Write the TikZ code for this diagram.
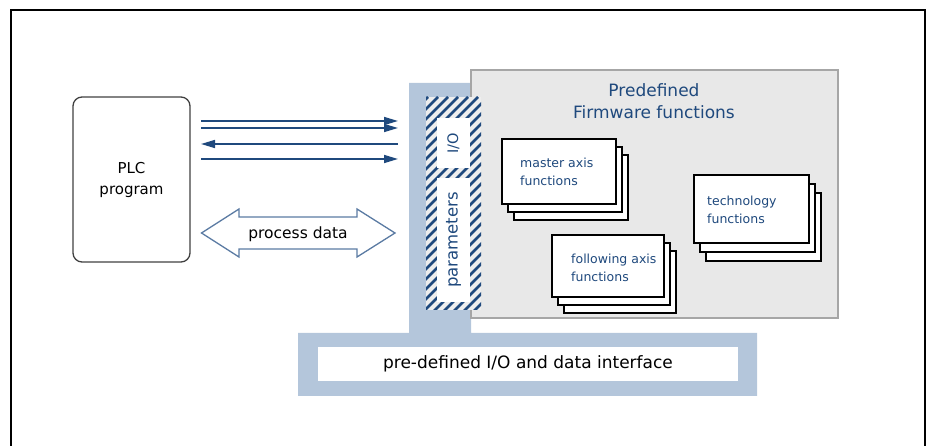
\documentclass[tikz,border=0pt]{standalone}
\usepackage{fontspec}
\setmainfont{DejaVu Sans}
\usetikzlibrary{arrows.meta}
\definecolor{navy}{HTML}{1F497D}
\definecolor{steel}{HTML}{B4C6DB}
\definecolor{panelfill}{HTML}{E8E8E8}
\definecolor{panelline}{HTML}{A6A6A6}
\definecolor{arrowline}{HTML}{5B7BA3}
\definecolor{hatchbg}{HTML}{EEEEEE}
\tikzset{
  box/.style={anchor=north west, inner sep=0pt, outer sep=0pt},
  cardbox/.style={box, draw=black, line width=1.4pt, fill=white},
  cardtext/.style={anchor=west, align=left, text=navy, inner sep=0pt,
    font=\fontsize{12.5}{18}\selectfont},
  flow/.style={navy, line width=1.6pt, -{Triangle[length=14pt,width=8pt]}},
  slot/.style={fill=white, inner sep=0pt, text=navy, rotate=90},
}
\begin{document}
\begin{tikzpicture}[x=1pt,y=-1pt]
\useasboundingbox (0,0) rectangle (930,446);

% outer frame, open at the bottom
\draw[line width=2.2pt] (11,448) -- (11,10) -- (925,10) -- (925,448);

% L-shaped interface band
\fill[steel] (409,83) -- (471,83) -- (471,333) -- (757,333) -- (757,396)
  -- (298,396) -- (298,333) -- (409,333) -- cycle;

% firmware panel
\node[box, fill=panelfill, draw=panelline, line width=1.2pt,
  minimum width=367, minimum height=248] (panel) at (471,70) {};
\node[align=center, text=navy, font=\fontsize{17}{22}\selectfont] (title)
  at (654,101) {Predefined\\Firmware functions};

% hatched I/O and parameter strip
\node[box, fill=hatchbg, minimum width=55, minimum height=213] (hatch) at (426,97) {};
\begin{scope}
  \clip (hatch.north west) rectangle (hatch.south east);
  \foreach \x in {203,213,...,493}
    \draw[navy, line width=2.6pt] (\x,312) -- (\x+215,97);
\end{scope}
\node[slot, minimum width=50, minimum height=33,
  font=\fontsize{14.5}{17}\selectfont] (io) at (453.5,143) {I/O};
\node[slot, minimum width=124, minimum height=33,
  font=\fontsize{16.5}{17}\selectfont] (params) at (453.5,240) {parameters};

% stacked function cards
\foreach \dx/\dy in {12/16,6/8,0/0}
  \node[cardbox, minimum width=114, minimum height=65] at (502+\dx,139+\dy) {};
\node[cardbox, minimum width=114, minimum height=65] (master) at (502,139) {};
\node[cardtext] (mastertext) at (520,172) {master axis\\functions};

\foreach \dx/\dy in {12/18,6/9,0/0}
  \node[cardbox, minimum width=115, minimum height=68] at (694+\dx,175+\dy) {};
\node[cardbox, minimum width=115, minimum height=68] (tech) at (694,175) {};
\node[cardtext] (techtext) at (707,210) {technology\\functions};

\foreach \dx/\dy in {12/16,6/8,0/0}
  \node[cardbox, minimum width=112, minimum height=62] at (552+\dx,235+\dy) {};
\node[cardbox, minimum width=112, minimum height=62] (follow) at (552,235) {};
\node[cardtext] (followtext) at (571,268) {following axis\\functions};

% PLC program
\node[box, draw=black!75, rounded corners=9pt, line width=1.3pt,
  minimum width=117, minimum height=165] (plc) at (73,97) {};
\node[align=center, font=\fontsize{15}{21}\selectfont] (plctext)
  at (plc.center) {PLC\\program};

% signal lines between PLC and the I/O strip
\coordinate (l1) at (201,121); \coordinate (r1) at (398,121);
\coordinate (l2) at (201,128); \coordinate (r2) at (398,128);
\coordinate (l3) at (201,144); \coordinate (r3) at (398,144);
\coordinate (l4) at (201,159); \coordinate (r4) at (398,159);
\draw[flow] (l1) -- (r1);
\draw[flow] (l2) -- (r2);
\draw[flow] (r3) -- (l3);
\draw[flow] (l4) -- (r4);

% process data double arrow
\draw[arrowline, line width=1.3pt, fill=white, line join=miter]
  (201.5,233) -- (239,209) -- (239,217) -- (357,217) -- (357,209)
  -- (395,233) -- (357,257) -- (357,249) -- (239,249) -- (239,257) -- cycle;
\node[font=\fontsize{15.5}{18}\selectfont] (pd) at (298,234) {process data};

% interface bar
\node[box, fill=white, minimum width=420, minimum height=34,
  font=\fontsize{17}{18}\selectfont] (iface) at (318,347)
  {pre-defined I/O and data interface};
\end{tikzpicture}
\end{document}
